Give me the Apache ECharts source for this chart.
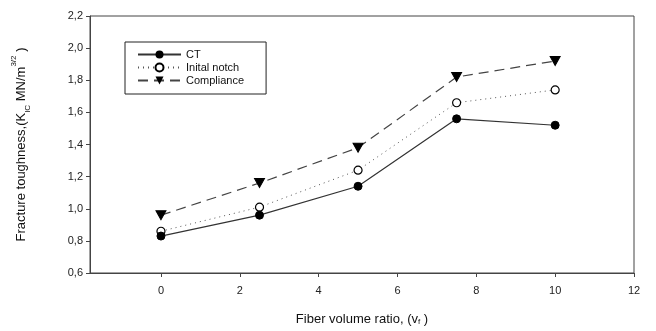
<!DOCTYPE html>
<html>
<head>
<meta charset="utf-8">
<script src="https://cdn.jsdelivr.net/npm/echarts@6/dist/echarts.min.js"></script>
<style>
html,body{margin:0;padding:0;background:#fff;}
#chart{width:656px;height:331px;}
</style>
</head>
<body>
<div id="chart"></div>
<script>
/* 数据 */
var fiberRatio = [0, 2.5, 5, 7.5, 10];
var ctValues = [0.83, 0.96, 1.14, 1.56, 1.52];
var initialNotch = [0.86, 1.01, 1.24, 1.66, 1.74];
var compliance = [0.96, 1.16, 1.38, 1.82, 1.92];
var xTicks = [0, 2, 4, 6, 8, 10, 12];
var seriesNames = ['CT', 'Inital notch', 'Compliance'];

function pairs(ys){
	var out = [];
	for (var i = 0; i < fiberRatio.length; i++) {
		out.push([fiberRatio[i], ys[i]]);
	}
	return out;
}

var font = '"Liberation Sans", Arial, sans-serif';
var triDown = 'path://M0,0 L10,0 L5,9 Z';

var mychart = echarts.init(document.getElementById('chart'));
var option = {
	animation: false,
	grid: {
		left: 90,
		right: 22,
		top: 16,
		bottom: 47,
		show: true,
		borderColor: '#444',
		borderWidth: 1
	},
	legend: {
		show: true,
		data: seriesNames,
		orient: 'vertical',
		left: 125,
		top: 42,
		itemWidth: 43,
		itemHeight: 10,
		itemGap: 2,
		padding: [7, 22, 8, 12],
		borderColor: '#222',
		borderWidth: 1,
		textStyle: {
			color: '#111',
			fontSize: 11,
			fontFamily: font
		}
	},
	xAxis: {
		type: 'value',
		min: -1.8,
		max: 12,
		name: 'Fiber volume ratio, (v{sub|f} )',
		nameLocation: 'middle',
		nameGap: 40,
		nameTextStyle: {
			color: '#111',
			fontSize: 13,
			fontFamily: font,
			rich: {
				sub: { fontSize: 8, verticalAlign: 'bottom', lineHeight: 8, fontFamily: font, color: '#111' }
			}
		},
		splitLine: { show: false },
		axisLine: { onZero: false, lineStyle: { color: '#444', width: 1 } },
		axisTick: {
			show: true,
			length: 4,
			customValues: xTicks,
			lineStyle: { color: '#444' }
		},
		axisLabel: {
			customValues: xTicks,
			margin: 12,
			color: '#222',
			fontSize: 11,
			fontFamily: font
		}
	},
	yAxis: {
		type: 'value',
		min: 0.6,
		max: 2.2,
		interval: 0.2,
		name: '{n|Fracture toughness,(K}{sub|IC}{n| MN/m}{sup|3/2}{n| )}',
		nameLocation: 'middle',
		nameGap: 58,
		nameTextStyle: {
			color: '#111',
			fontFamily: font,
			rich: {
				n: { fontSize: 13, lineHeight: 22, fontFamily: font, color: '#111' },
				sub: { fontSize: 8, lineHeight: 8, verticalAlign: 'bottom', fontFamily: font, color: '#111' },
				sup: { fontSize: 8, lineHeight: 8, verticalAlign: 'top', fontFamily: font, color: '#111' }
			}
		},
		splitLine: { show: false },
		axisLine: { show: true, onZero: false, lineStyle: { color: '#444', width: 1 } },
		axisTick: { show: true, length: 4, lineStyle: { color: '#444' } },
		axisLabel: {
			margin: 7,
			color: '#222',
			fontSize: 11,
			fontFamily: font,
			formatter: function(v){ return v.toFixed(1).replace('.', ','); }
		}
	},
	series: [{
		name: seriesNames[0],
		type: 'line',
		data: pairs(ctValues),
		symbol: 'circle',
		symbolSize: 8,
		itemStyle: { color: '#000', borderColor: '#000' },
		lineStyle: { color: '#333', width: 1.2, type: 'solid' },
		z: 5
	}, {
		name: seriesNames[1],
		type: 'line',
		data: pairs(initialNotch),
		symbol: 'circle',
		symbolSize: 8,
		itemStyle: { color: '#fff', borderColor: '#000', borderWidth: 1.2 },
		lineStyle: { color: '#555', width: 1, type: [1, 4] },
		z: 4
	}, {
		name: seriesNames[2],
		type: 'line',
		data: pairs(compliance),
		symbol: triDown,
		symbolSize: [10, 9],
		itemStyle: { color: '#000', borderColor: '#000' },
		lineStyle: { color: '#444', width: 1.2, type: [10, 6] },
		z: 3
	}]
};
mychart.setOption(option);
</script>
</body>
</html>
